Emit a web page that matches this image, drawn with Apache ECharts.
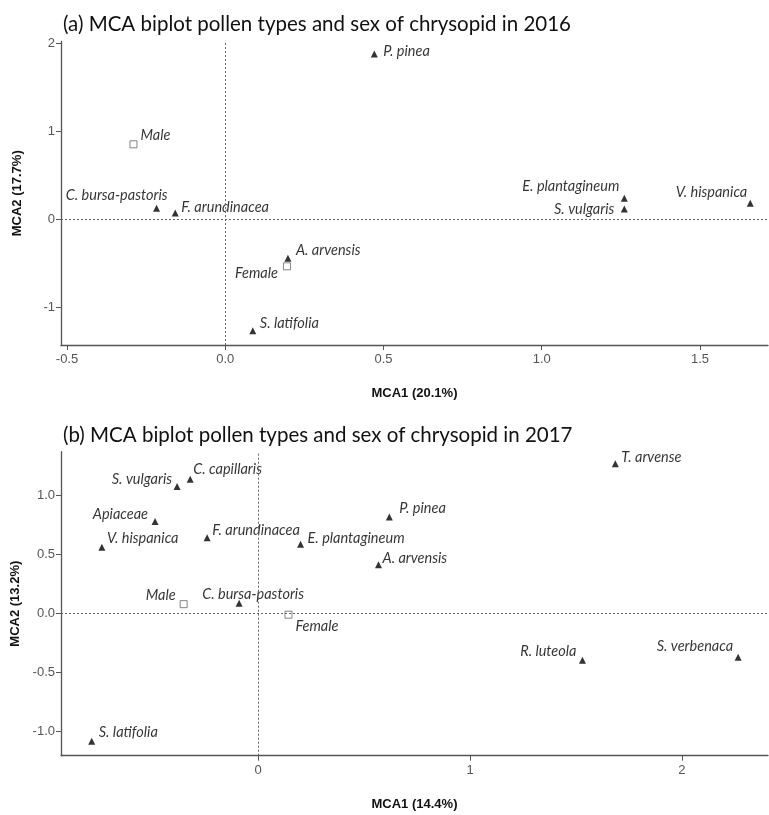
<!DOCTYPE html>
<html>
<head>
<meta charset="utf-8">
<script src="https://cdn.jsdelivr.net/npm/echarts@6/dist/echarts.min.js"></script>
<style>
html,body{margin:0;padding:0;background:#fff;}
#chart{width:769px;height:815px;}
</style>
</head>
<body>
<div id="chart"></div>
<script>
// ---- Panel (a) 2016 ----
const pollen2016Names = ['P. pinea','C. bursa-pastoris','F. arundinacea','A. arvensis','S. latifolia','E. plantagineum','S. vulgaris','V. hispanica'];
const pollen2016MCA1 = [0.471,-0.217,-0.158,0.198,0.087,1.261,1.261,1.659];
const pollen2016MCA2 = [1.878,0.125,0.072,-0.443,-1.266,0.239,0.117,0.182];
const sex2016Names = ['Male','Female'];
const sex2016MCA1 = [-0.290,0.195];
const sex2016MCA2 = [0.852,-0.534];
const xTicks2016 = [-0.5,0,0.5,1,1.5];
const yTicks2016 = [-1,0,1,2];

// ---- Panel (b) 2017 ----
const pollen2017Names = ['T. arvense','S. vulgaris','C. capillaris','Apiaceae','V. hispanica','F. arundinacea','E. plantagineum','P. pinea','A. arvensis','C. bursa-pastoris','R. luteola','S. verbenaca','S. latifolia'];
const pollen2017MCA1 = [1.686,-0.383,-0.321,-0.487,-0.738,-0.241,0.200,0.619,0.568,-0.090,1.531,2.266,-0.786];
const pollen2017MCA2 = [1.264,1.071,1.134,0.775,0.559,0.639,0.584,0.815,0.410,0.085,-0.397,-0.372,-1.082];
const sex2017Names = ['Male','Female'];
const sex2017MCA1 = [-0.352,0.143];
const sex2017MCA2 = [0.077,-0.012];
const xTicks2017 = [0,1,2];
const yTicks2017 = [-1,-0.5,0,0.5,1];

// label placement (pixel offsets from marker centre, alignment)
const labelPlace2016 = {
  'P. pinea':['left',9,-3], 'C. bursa-pastoris':['right',11,-13], 'F. arundinacea':['left',6,-6],
  'A. arvensis':['left',8,-8], 'S. latifolia':['left',7,-7], 'E. plantagineum':['right',-5,-12],
  'S. vulgaris':['right',-10,0], 'V. hispanica':['right',-3,-11], 'Male':['left',7,-9], 'Female':['right',-9,7]
};
const labelPlace2017 = {
  'T. arvense':['left',6,-6], 'S. vulgaris':['right',-5,-7], 'C. capillaris':['left',3,-10],
  'Apiaceae':['right',-7,-7], 'V. hispanica':['left',5,-9], 'F. arundinacea':['left',5,-7],
  'E. plantagineum':['left',7,-6], 'P. pinea':['left',10,-9], 'A. arvensis':['left',4,-6],
  'C. bursa-pastoris':['left',-37,-9], 'R. luteola':['right',-6,-9], 'S. verbenaca':['right',-5,-11],
  'S. latifolia':['left',7,-9], 'Male':['right',-8,-9], 'Female':['left',7,12]
};

const LABEL_FONT = 'Lato';
function pts(names, xs, ys, place){
  return names.map((n,i)=>{
    const p = place[n];
    return {
      name:n, value:[xs[i],ys[i]],
      label:{show:true, formatter:n, position:'inside', align:p[0], verticalAlign:'middle',
        offset:[p[1],p[2]], fontStyle:'italic', fontFamily:LABEL_FONT, fontSize:14.5, color:'#000'}
    };
  });
}

const axisCol = '#555';
function xAxisCfg(idx, min, max, ticks, name, fmt){
  return {
    type:'value', gridIndex:idx, min:min, max:max,
    name:name, nameLocation:'middle', nameGap:42,
    nameTextStyle:{fontWeight:'bold', fontFamily:'Liberation Sans', fontSize:13, color:'#111'},
    axisLine:{show:true, onZero:false, lineStyle:{color:axisCol, width:1.3}},
    axisTick:{show:true, customValues:ticks, length:5, lineStyle:{color:axisCol}},
    axisLabel:{customValues:ticks, formatter:fmt, color:'#555', fontFamily:'Liberation Sans', fontSize:13, margin:8},
    splitLine:{show:false}
  };
}
function yAxisCfg(idx, min, max, ticks, name, fmt){
  return {
    type:'value', gridIndex:idx, min:min, max:max,
    name:name, nameLocation:'middle', nameGap:37, nameRotate:90,
    nameTextStyle:{fontWeight:'bold', fontFamily:'Liberation Sans', fontSize:13, color:'#111'},
    axisLine:{show:true, onZero:false, lineStyle:{color:axisCol, width:1.3}},
    axisTick:{show:true, customValues:ticks, length:5, lineStyle:{color:axisCol}},
    axisLabel:{customValues:ticks, formatter:fmt, color:'#555', fontFamily:'Liberation Sans', fontSize:13, margin:6},
    splitLine:{show:false}
  };
}
const refLines = {
  silent:true, symbol:'none', label:{show:false},
  lineStyle:{type:[2,2], color:'#666', width:1},
  data:[{xAxis:0},{yAxis:0}]
};
const triStyle = {symbol:'triangle', symbolSize:7, itemStyle:{color:'#000'}};
const sqStyle = {symbol:'rect', symbolSize:7, itemStyle:{color:'#fff', borderColor:'#666', borderWidth:1}};

const chart = echarts.init(document.getElementById('chart'), null, {renderer:'canvas'});
chart.setOption({
  backgroundColor:'#fff',
  animation:false,
  title:[
    {text:'(a) MCA biplot pollen types and sex of chrysopid in 2016', left:58, top:9,
      textStyle:{fontFamily:'Lato', fontWeight:'normal', fontSize:20.5, color:'#111'}},
    {text:'(b) MCA biplot pollen types and sex of chrysopid in 2017', left:58, top:420,
      textStyle:{fontFamily:'Lato', fontWeight:'normal', fontSize:20.5, color:'#111'}}
  ],
  grid:[
    {left:61, top:41.5, width:707, height:303.5},
    {left:61, top:451.7, width:707, height:304}
  ],
  xAxis:[
    xAxisCfg(0, -0.519, 1.715, xTicks2016, 'MCA1 (20.1%)', v=>v.toFixed(1)),
    xAxisCfg(1, -0.931, 2.407, xTicks2017, 'MCA1 (14.4%)', v=>String(Math.round(v)))
  ],
  yAxis:[
    yAxisCfg(0, -1.428, 2.02, yTicks2016, 'MCA2 (17.7%)', v=>String(Math.round(v))),
    yAxisCfg(1, -1.204, 1.366, yTicks2017, 'MCA2 (13.2%)', v=>v.toFixed(1))
  ],
  series:[
    Object.assign({type:'scatter', xAxisIndex:0, yAxisIndex:0, z:3,
      data:pts(pollen2016Names, pollen2016MCA1, pollen2016MCA2, labelPlace2016), markLine:refLines}, triStyle),
    Object.assign({type:'scatter', xAxisIndex:0, yAxisIndex:0, z:3,
      data:pts(sex2016Names, sex2016MCA1, sex2016MCA2, labelPlace2016)}, sqStyle),
    Object.assign({type:'scatter', xAxisIndex:1, yAxisIndex:1, z:3,
      data:pts(pollen2017Names, pollen2017MCA1, pollen2017MCA2, labelPlace2017), markLine:refLines}, triStyle),
    Object.assign({type:'scatter', xAxisIndex:1, yAxisIndex:1, z:3,
      data:pts(sex2017Names, sex2017MCA1, sex2017MCA2, labelPlace2017)}, sqStyle)
  ]
});
</script>
</body>
</html>
